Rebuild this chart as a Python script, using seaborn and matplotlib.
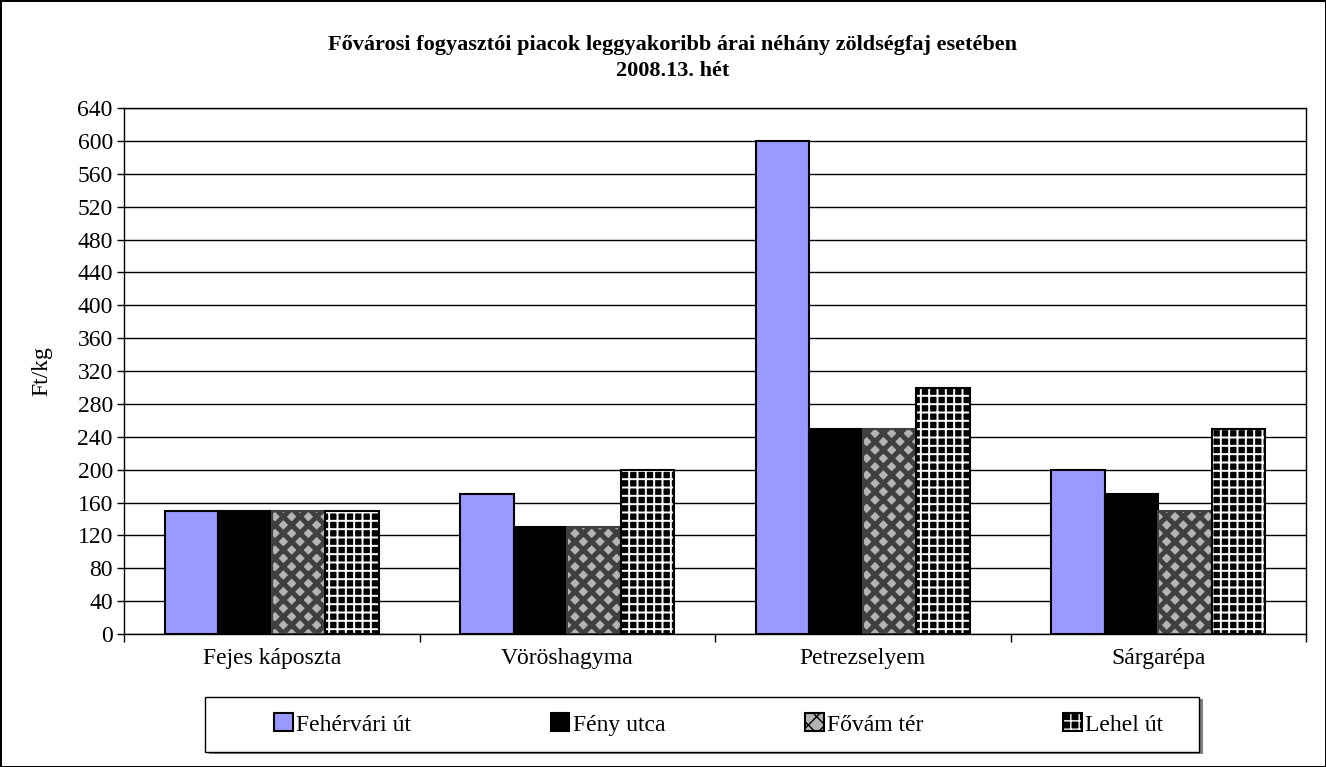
import numpy as np
import pandas as pd
import seaborn as sns
import matplotlib.pyplot as plt
from matplotlib.colors import to_rgba
from matplotlib.ticker import FixedLocator

categories = ['Fejes káposzta', 'Vöröshagyma', 'Petrezselyem', 'Sárgarépa']
markets = ['Fehérvári út', 'Fény utca', 'Fővám tér', 'Lehel út']
fehervari = [150, 170, 600, 200]
feny = [150, 130, 250, 170]
fovam = [150, 130, 250, 150]
lehel = [150, 200, 300, 250]
yticks = list(range(0, 641, 40))

df = pd.DataFrame({
    'zoldseg': categories * 4,
    'piac': np.repeat(markets, 4),
    'ar': fehervari + feny + fovam + lehel,
})

sns.set_style('white')
plt.rcParams['font.family'] = ['Liberation Serif', 'DejaVu Serif']
plt.rcParams['text.color'] = 'black'
plt.rcParams['axes.labelcolor'] = 'black'
plt.rcParams['xtick.color'] = 'black'
plt.rcParams['ytick.color'] = 'black'

fig = plt.figure(figsize=(13.26, 7.67), dpi=100)
fig.patch.set_edgecolor('black')
fig.patch.set_linewidth(2)
ax = fig.add_axes([0.0935, 0.1734, 0.8915, 0.6856])

pal = ['#9999FF', '#000000', '#B4B4B4', '#000000']
sns.barplot(data=df, x='zoldseg', y='ar', hue='piac', order=categories,
            hue_order=markets, palette=pal, width=0.725, saturation=1,
            edgecolor='black', linewidth=1.5, legend=False, ax=ax)

white = to_rgba('white')


def set_hlw(p, lw):
    if hasattr(p, 'set_hatch_linewidth'):
        p.set_hatch_linewidth(lw)
    else:
        p._hatch_linewidth = lw


# patterns: Fővám tér = light diamonds on dark, Lehel út = white grid on black
for p in ax.containers[2]:
    p.set_hatch('xx')
    p.set_edgecolor('#404040')
    set_hlw(p, 3.6)
for p in ax.containers[3]:
    p.set_hatch('++')
    p.set_edgecolor('black')
    p._hatch_color = white
    set_hlw(p, 1.4)

ax.set_ylim(0, 640)
ax.set_xlim(-0.5, 3.5)
ax.set_yticks(yticks)
ax.yaxis.grid(True, color='black', linewidth=1)
ax.set_axisbelow(True)
for s in ax.spines.values():
    s.set_visible(True)
    s.set_color('black')
    s.set_linewidth(1)
ax.tick_params(axis='y', direction='out', length=5, width=1, color='black',
               labelsize=17, left=True, pad=3, labelcolor='black')
ax.tick_params(axis='x', which='major', length=0, labelsize=17, pad=10,
               labelcolor='black')
ax.xaxis.set_minor_locator(FixedLocator([-0.5, 0.5, 1.5, 2.5, 3.5]))
ax.tick_params(axis='x', which='minor', direction='out', length=6, width=1,
               color='black', bottom=True)
ax.set_xlabel('')
ax.set_ylabel('Ft/kg', fontsize=17, labelpad=18, color='black')

fig.text(0.507, 0.955, 'Fővárosi fogyasztói piacok leggyakoribb árai néhány zöldségfaj esetében\n2008.13. hét',
         ha='center', va='top', fontsize=16, fontweight='bold', linespacing=1.45,
         color='black')

handles = []
for c in ax.containers:
    r = c[0]
    h = plt.Rectangle((0, 0), 1, 1, facecolor=r.get_facecolor(),
                      edgecolor='black', linewidth=1.5, hatch=r.get_hatch())
    set_hlw(h, 1.0)
    handles.append(h)
handles[3]._hatch_color = white

# legend frame with a grey shadow
fig.add_artist(plt.Rectangle((0.1576, 0.0170), 0.750, 0.0717, transform=fig.transFigure,
                             facecolor='#808080', edgecolor='none', zorder=1))
fig.add_artist(plt.Rectangle((0.1546, 0.0196), 0.750, 0.0717, transform=fig.transFigure,
                             facecolor='white', edgecolor='black', linewidth=1, zorder=2))
leg = fig.legend(handles, markets, loc='center', ncol=4,
                 bbox_to_anchor=(0.542, 0.0555), fontsize=17, frameon=False,
                 handlelength=0.8, handleheight=0.8, handletextpad=0.15,
                 columnspacing=5.9, borderaxespad=0, labelcolor='black')
leg.set_zorder(3)

fig.savefig('out.png', dpi=100)
